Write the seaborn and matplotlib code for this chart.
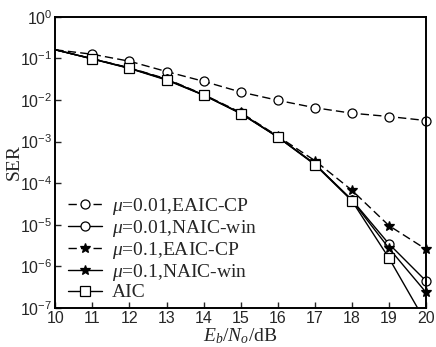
import numpy as np
import pandas as pd
import seaborn as sns
import matplotlib
matplotlib.use("Agg")
import matplotlib.pyplot as plt
from matplotlib.ticker import LogLocator, NullLocator, FuncFormatter

# Eb/N0 (dB) and SER values
ebn0 = [10, 11, 12, 13, 14, 15, 16, 17, 18, 19, 20]
ser_mu001_eaic = [0.16, 0.125, 0.085, 0.048, 0.028, 0.0155, 0.0098, 0.0065, 0.0048, 0.0040, 0.0032]
ser_mu001_naic = [0.16, 0.097, 0.058, 0.031, 0.0132, 0.0048, 0.0013, 0.00029, 4.0e-5, 3.5e-6, 4.5e-7]
ser_mu01_eaic = [0.16, 0.098, 0.059, 0.032, 0.0135, 0.0050, 0.00135, 0.00035, 6.8e-5, 9.6e-6, 2.6e-6]
ser_mu01_naic = [0.16, 0.097, 0.058, 0.031, 0.0132, 0.0048, 0.0013, 0.00029, 3.9e-5, 2.75e-6, 2.4e-7]
ser_aic = [0.16, 0.096, 0.057, 0.030, 0.0130, 0.0047, 0.00128, 0.00028, 3.8e-5, 1.6e-6, 4.5e-8]

labels = [r'$\mu$=0.01,EAIC-CP', r'$\mu$=0.01,NAIC-win',
          r'$\mu$=0.1,EAIC-CP', r'$\mu$=0.1,NAIC-win', 'AIC']

sns.set_style("white")
plt.rcParams['font.family'] = ['Liberation Sans', 'DejaVu Sans']
plt.rcParams['mathtext.fontset'] = 'custom'
plt.rcParams['mathtext.rm'] = 'Liberation Serif'
plt.rcParams['mathtext.sf'] = 'Liberation Sans'
plt.rcParams['mathtext.it'] = 'Liberation Serif:italic'

fig = plt.figure(figsize=(4.36, 3.47), dpi=100)
ax = fig.add_axes([0.127, 0.112, 0.85, 0.84])

series = [
    (ser_mu001_eaic, labels[0], (0, (6, 3)), 'o', 'white', False),
    (ser_mu001_naic, labels[1], '-', 'o', 'white', False),
    (ser_mu01_eaic, labels[2], (0, (6, 3)), '*', 'black', False),
    (ser_mu01_naic, labels[3], '-', '*', 'black', False),
    (ser_aic, labels[4], '-', 's', 'white', True),
]
for vals, lab, ls, mk, fc, clip in series:
    df = pd.DataFrame({'x': ebn0, 'y': vals})
    every = list(range(1, 10)) if clip else list(range(1, 11))
    sns.lineplot(data=df, x='x', y='y', ax=ax, color='black', linestyle=ls,
                 linewidth=1.0, marker=mk, markersize=7 if mk == '*' else 6.5,
                 markerfacecolor=fc, markeredgecolor='black', markeredgewidth=0.9,
                 markevery=every, clip_on=clip, label=lab)

ax.set_yscale('log')
ax.set_xlim(10, 20)
ax.set_ylim(1e-7, 1)
ax.set_xticks(ebn0)
ax.yaxis.set_major_locator(LogLocator(base=10, numticks=10))
ax.yaxis.set_minor_locator(NullLocator())
ax.yaxis.set_major_formatter(FuncFormatter(
    lambda v, p: r'$\mathsf{10^{%d}}$' % round(np.log10(v))))
ax.tick_params(direction='in', length=4, width=1, labelsize=11.5,
               left=True, bottom=True, top=False, right=False, pad=2)
for sp in ax.spines.values():
    sp.set_color('black')
    sp.set_linewidth(1.4)

ax.set_xlabel(r'$E_b/N_o$/dB', fontsize=14, family='Liberation Serif', labelpad=0)
ax.set_ylabel('SER', fontsize=14, family='Liberation Serif')
ax.yaxis.set_label_coords(-0.088, 0.5)

ax.legend(loc='lower left', bbox_to_anchor=(0.016, 0.0), frameon=False,
          handlelength=1.75, handletextpad=0.5,
          labelspacing=0.05, borderaxespad=0.0, borderpad=0.35,
          prop={'family': 'Liberation Serif', 'size': 14})

fig.savefig('out.png', dpi=100)
